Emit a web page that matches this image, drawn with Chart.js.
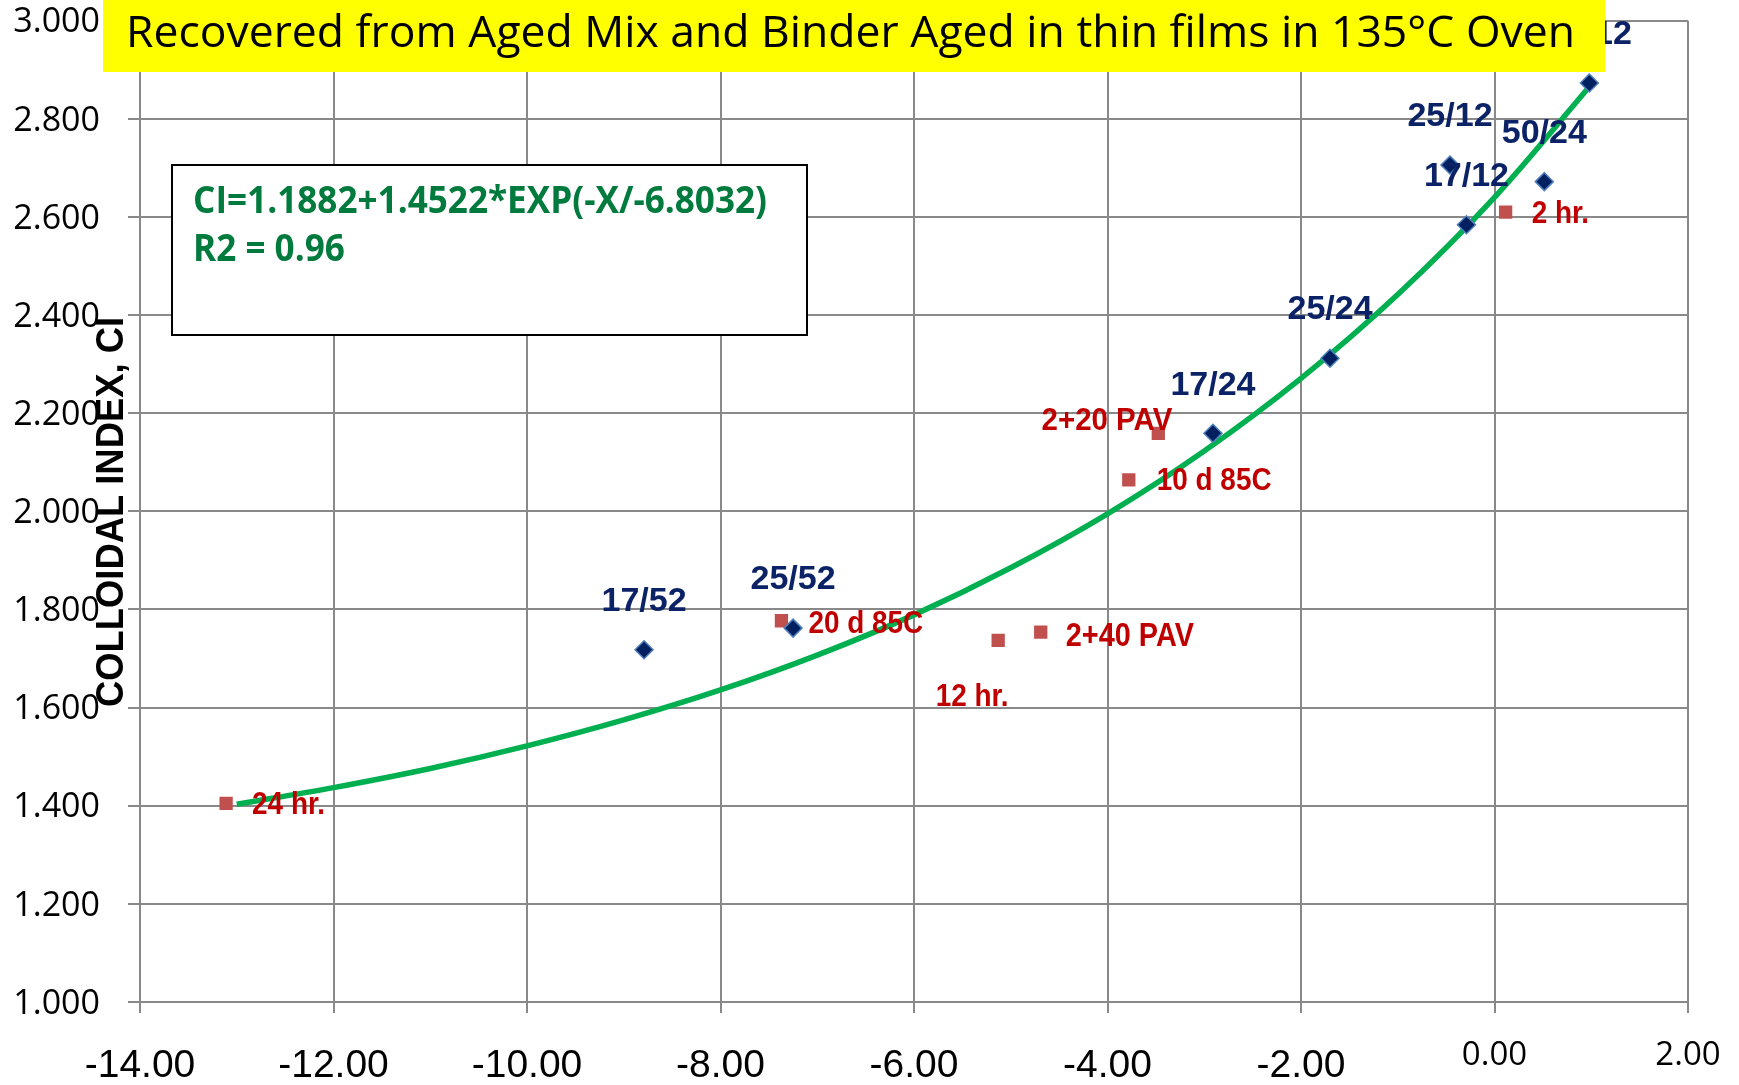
<!DOCTYPE html>
<html><head><meta charset="utf-8">
<script src="https://cdn.jsdelivr.net/npm/chart.js@4.4.0/dist/chart.umd.min.js"></script>
<style>html,body{margin:0;padding:0;background:#fff}#wrap{width:1739px;height:1085px;position:relative}</style>
</head><body><div id="wrap"><canvas id="c" width="1739" height="1085"></canvas></div>
<script>
// ---------- text ----------
const chartTitle = 'Recovered from Aged Mix and Binder Aged in thin films in 135°C Oven';
const yAxisTitle = 'COLLOIDAL INDEX, CI';
const equationLines = ['CI=1.1882+1.4522*EXP(-X/-6.8032)', 'R2 = 0.96'];

// ---------- data ----------
const blueLabels = ['50/12', '25/12', '17/12', '50/24', '25/24', '17/24', '25/52', '17/52'];
const blueX = [0.98, -0.46, -0.29, 0.515, -1.70, -2.91, -7.25, -8.79];
const blueY = [2.873, 2.706, 2.584, 2.672, 2.312, 2.159, 1.762, 1.718];

const redLabels = ['2 hr.', '2+20 PAV', '10 d 85C', '20 d 85C', '12 hr.', '2+40 PAV', '24 hr.'];
const redX = [0.115, -3.475, -3.78, -7.37, -5.13, -4.69, -13.11];
const redY = [2.610, 2.159, 2.064, 1.777, 1.737, 1.754, 1.405];

// fitted curve
const fitX = [-13.0, -12, -11, -10, -9, -8, -7, -6, -5, -4, -3, -2, -1, 0, 1.0];
const fitY = [1.403, 1.437, 1.476, 1.522, 1.575, 1.636, 1.707, 1.789, 1.885, 1.995, 2.123, 2.271, 2.442, 2.640, 2.870];

// tick labels
const xTicks = [-14, -12, -10, -8, -6, -4, -2, 0, 2];
const yTicks = [1.0, 1.2, 1.4, 1.6, 1.8, 2.0, 2.2, 2.4, 2.6, 2.8, 3.0];

// ---------- styles (kept apart from data) ----------
const blueLabelStyle = { size: 34, color: '#0B2266', dy: -51 };
const redLabelStyle = { size: 31, color: '#C00000', sx: 0.9 };
const redLabelPlacement = [
  { dx: 26, dy: 0, align: 'left' },
  { dx: 14, dy: -14, align: 'right', sx: 0.95 },
  { dx: 28, dy: -1, align: 'left' },
  { dx: 27, dy: 1, align: 'left' },
  { dx: -26, dy: 55, align: 'center' },
  { dx: 25, dy: 2, align: 'left', size: 34, sx: 0.85 },
  { dx: 26, dy: 0, align: 'left' }
];
const GRID = '#898989';

function drawScaled(ctx, text, x, y, font, color, align, sx, sy) {
  ctx.save();
  ctx.translate(x, y);
  ctx.scale(sx || 1, sy || 1);
  ctx.font = font;
  ctx.fillStyle = color;
  ctx.textAlign = align || 'left';
  ctx.textBaseline = 'alphabetic';
  ctx.fillText(text, 0, 0);
  ctx.restore();
}

const decorPlugin = {
  id: 'decor',
  beforeDatasetsDraw(chart) {
    const ctx = chart.ctx;
    ctx.save();
    ctx.fillStyle = '#fff';
    ctx.fillRect(172, 165, 635, 170);
    ctx.strokeStyle = '#000';
    ctx.lineWidth = 2;
    ctx.strokeRect(172, 165, 635, 170);
    const eqFont = 'bold 37px "Open Sans"';
    ctx.font = eqFont;
    const w = ctx.measureText(equationLines[0]).width;
    const sx = 574 / w;
    ctx.restore();
    drawScaled(ctx, equationLines[0], 193, 213, eqFont, '#007A3D', 'left', sx, 1);
    drawScaled(ctx, equationLines[1], 193, 261, eqFont, '#007A3D', 'left', sx, 1);
  },
  afterDatasetsDraw(chart) {
    const ctx = chart.ctx;
    const mb = chart.getDatasetMeta(0);
    mb.data.forEach((pt, i) => {
      const cap = blueLabelStyle.size * 0.716;
      drawScaled(ctx, blueLabels[i], pt.x, pt.y + blueLabelStyle.dy + cap / 2,
        'bold ' + blueLabelStyle.size + 'px "Liberation Sans", Arial', blueLabelStyle.color, 'center', 1, 1);
    });
    const mr = chart.getDatasetMeta(1);
    mr.data.forEach((pt, i) => {
      const p = redLabelPlacement[i];
      const size = p.size || redLabelStyle.size;
      const cap = size * 0.716;
      drawScaled(ctx, redLabels[i], pt.x + p.dx, pt.y + p.dy + cap / 2,
        'bold ' + size + 'px "Liberation Sans", Arial', redLabelStyle.color, p.align, p.sx || redLabelStyle.sx, 1);
    });
  },
  afterDraw(chart) {
    const ctx = chart.ctx;
    ctx.save();
    ctx.fillStyle = '#FFFF00';
    ctx.fillRect(103, 0, 1502, 72);
    const tFont = '44px "Open Sans"';
    ctx.font = tFont;
    const tw = ctx.measureText(chartTitle).width;
    ctx.restore();
    drawScaled(ctx, chartTitle, 126, 47, tFont, '#000', 'left', 1449 / tw, 1);
    ctx.save();
    const yFont = 'bold 39px "Liberation Sans", Arial';
    ctx.font = yFont;
    const yw = ctx.measureText(yAxisTitle).width;
    ctx.translate(123, 512);
    ctx.rotate(-Math.PI / 2);
    ctx.scale(390 / yw, 1);
    ctx.fillStyle = '#000';
    ctx.textAlign = 'center';
    ctx.textBaseline = 'alphabetic';
    ctx.fillText(yAxisTitle, 0, 0);
    ctx.restore();
  }
};

function build() {
  const ctx = document.getElementById('c').getContext('2d');
  new Chart(ctx, {
    type: 'scatter',
    data: {
      datasets: [
        {
          label: 'Recovered from aged mix',
          data: blueX.map((x, i) => ({ x: x, y: blueY[i] })),
          pointStyle: 'rectRot', pointRadius: 9,
          backgroundColor: '#002060', borderColor: '#4F81BD', borderWidth: 1.5,
          showLine: false
        },
        {
          label: 'Binder aged in thin films',
          data: redX.map((x, i) => ({ x: x, y: redY[i] })),
          pointStyle: 'rect', pointRadius: 9.4,
          backgroundColor: '#C0504D', borderColor: '#C0504D', borderWidth: 0,
          showLine: false
        },
        {
          label: 'Fit',
          data: fitX.map((x, i) => ({ x: x, y: fitY[i] })),
          showLine: true, pointRadius: 0, borderColor: '#00B050', borderWidth: 5.5,
          cubicInterpolationMode: 'monotone', fill: false
        }
      ]
    },
    options: {
      responsive: false,
      animation: false,
      events: [],
      layout: { padding: { top: 20.7, right: 51, left: 0, bottom: 0 } },
      plugins: { legend: { display: false }, title: { display: false }, tooltip: { enabled: false } },
      scales: {
        x: {
          type: 'linear', min: -14, max: 2, position: 'bottom',
          afterBuildTicks: s => { s.ticks = xTicks.map(v => ({ value: v })); },
          afterFit: s => { s.height = 83; s.paddingLeft = 0; s.paddingRight = 0; },
          grid: { color: GRID, lineWidth: 2, tickLength: 11, drawTicks: true },
          border: { color: GRID, width: 2 },
          ticks: {
            maxRotation: 0, minRotation: 0, autoSkip: false, padding: 0, color: '#000',
            font: c => {
              const neg = c.tick && c.tick.value < -1e-9;
              return neg ? { family: '"Liberation Sans", Arial', size: 39, lineHeight: '106px' }
                         : { family: '"Open Sans"', size: 33, lineHeight: '86px' };
            },
            callback: v => (Math.abs(v) < 1e-9 ? 0 : Number(v)).toFixed(2)
          }
        },
        y: {
          type: 'linear', min: 1, max: 3,
          afterBuildTicks: s => { s.ticks = yTicks.map(v => ({ value: v })); },
          afterFit: s => { s.width = 140; s.paddingTop = 0; s.paddingBottom = 0; },
          grid: { color: GRID, lineWidth: 2, tickLength: 12, drawTicks: true },
          border: { color: GRID, width: 2 },
          ticks: {
            padding: 28, color: '#000', labelOffset: 2,
            font: { family: '"Open Sans"', size: 34, lineHeight: 1.2 },
            callback: v => Number(v).toFixed(3)
          }
        }
      }
    },
    plugins: [decorPlugin]
  });
}

const fontLoads = [
  '44px "Open Sans"', 'bold 37px "Open Sans"', '34px "Open Sans"',
  'bold 34px "Liberation Sans"', '39px "Liberation Sans"'
].map(f => document.fonts.load(f).catch(() => null));
Promise.all(fontLoads).then(build, build);
</script>
</body></html>
